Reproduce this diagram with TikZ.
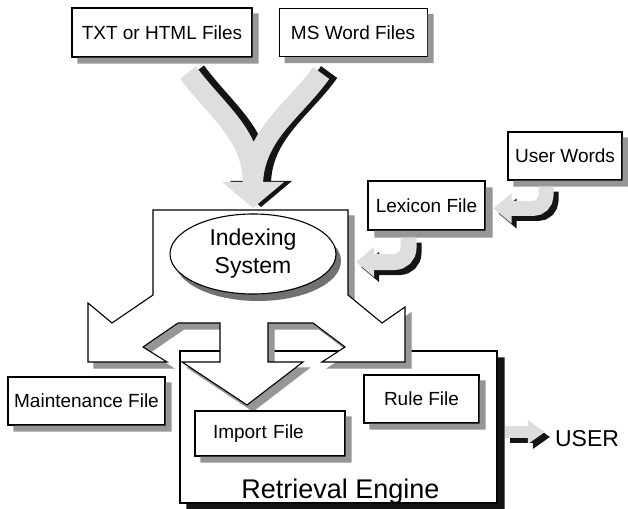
\documentclass[tikz,border=0pt]{standalone}
\usepackage{fontspec}
\setmainfont{Liberation Sans}
\usepackage{tikz}
\usetikzlibrary{shapes.geometric, positioning, calc}
\definecolor{colShadow}{RGB}{150,150,150}
\definecolor{colArrow} {RGB}{222,222,222}
\definecolor{colDark}  {RGB}{20,20,20}
\tikzset{
  base/.style     = {draw, line width=1.1bp, fill=white, inner sep=0pt,
                     font=\fontsize{19bp}{22bp}\selectfont},
  filebox/.style  = {base, rectangle, minimum height=48bp},
  engine/.style   = {base, rectangle, minimum width=317bp, minimum height=152bp},
  oval/.style     = {base, ellipse, minimum width=166bp, minimum height=80bp,
                     align=center, font=\fontsize{23bp}{28bp}\selectfont,
                     preaction={draw=none, fill=colShadow!75!black,
                     transform canvas={shift={(5bp,-7bp)}}}},
  bigtext/.style  = {inner sep=0pt, font=\fontsize{27bp}{30bp}\selectfont},
  usertext/.style = {inner sep=0pt, font=\fontsize{23bp}{26bp}\selectfont},
}

\begin{document}
\begin{tikzpicture}[x=1bp, y=-1bp]
\useasboundingbox (0,0) rectangle (628,509);

%% ── Retrieval Engine ─────────────────────────────────────────────────────────
\node[engine] (retrieval) at (338.5,427) {};
\node[bigtext, anchor=base] (enginelabel) at ($(retrieval.south)+(2,-5)$)
  {Retrieval Engine};

%% ── Indexing System with its three outgoing arrows ───────────────────────────
\foreach \d/\col/\line in {6/colShadow/colShadow, 0/white/black}{
  \path[fill=\col, draw=\line, line width=1.1bp, line join=miter,
        shift={(\d,\d)}]
    (153,210) -- (348,210) -- (348,295)
    -- (382,323) -- (405,307) -- (405,362) -- (322,362) -- (345,347)
    -- (313,323) -- (268,323) -- (268,362) -- (303,362)
    -- (247,405) -- (182,362) -- (220,362) -- (220,323)
    -- (178,323) -- (143,347) -- (167,362) -- (88,362) -- (88,303)
    -- (112,323) -- (153,295) -- cycle;
}
\coordinate (mergetip) at (253,208);
\coordinate (idxeast)  at (356,262);

\node[oval] (indexing) at (253,254) {Indexing\\System};

%% ── source files ─────────────────────────────────────────────────────────────
\node[filebox, minimum width=180bp, minimum height=49bp] (txt) at (162,32.5)
  {TXT or HTML Files};
\node[filebox, minimum width=148bp, right=26bp of txt] (msword)
  {MS Word Files};

%% ── lexicon ──────────────────────────────────────────────────────────────────
\node[filebox, minimum width=114bp] (userwords) at (565,156) {User Words};
\node[filebox, minimum width=117bp, minimum height=49bp] (lexicon)
  at (426.5,205.5) {Lexicon File};

%% ── output files ─────────────────────────────────────────────────────────────
\node[filebox, minimum width=157bp] (maint) at (86.5,401) {Maintenance File};
\node[filebox, minimum width=150bp, minimum height=45bp, text width=114bp,
      inner xsep=18bp, align=left] (import) at (270,433.5) {Import File};
\node[filebox, minimum width=115bp] (rule) at (421.5,399) {Rule File};

\node[usertext] (user) at (587,439) {USER};

%% ── box shadows (right and bottom bands) ─────────────────────────────────────
\foreach \n/\s/\col in {txt/6/colShadow, msword/6/colShadow,
    userwords/6/colShadow, lexicon/7/colShadow, maint/6/colShadow,
    import/6/colShadow, rule/6/colShadow, retrieval/7/colDark}{
  \fill[fill=\col] ($(\n.north east)+(0,\s)$) -- ($(\n.north east)+(\s,\s)$)
    -- ($(\n.south east)+(\s,\s)$) -- ($(\n.south west)+(\s,\s)$)
    -- ($(\n.south west)+(\s,0)$) -- (\n.south east) -- cycle;
}

%% ── block arrows ─────────────────────────────────────────────────────────────
\coordinate (stemL)  at ([shift={(26,15)}]txt.south);
\coordinate (stemR)  at ([shift={(-32,16)}]msword.south);
\coordinate (neck)   at ($(mergetip)+(0,-22)$);
\coordinate (uwout)  at ($(userwords.south)+(-19,6)$);
\coordinate (uwtip)  at ($(lexicon.east)+(8,3)$);
\coordinate (lxout)  at ($(lexicon.south)+(-18,7)$);
\coordinate (usrout) at ($(retrieval.east)+(7,5)$);
\coordinate (usrtip) at ($(user.west)+(-10,-7)$);

% files -> indexing (first pass = dark shadow)
\foreach \dx/\dy/\col in {8/-1/colDark, 0/0/colArrow}{
  \draw[draw=\col, line width=20bp]
    ($(stemL)+(\dx,\dy)$) .. controls ($(220,115)+(\dx,\dy)$)
      and ($(253,135)+(\dx,\dy)$) .. ($(neck)+(\dx,\dy)$)
    ($(stemR)+(\dx,\dy)$) .. controls ($(295,110)+(\dx,\dy)$)
      and ($(253,135)+(\dx,\dy)$) .. ($(neck)+(\dx,\dy)$);
  \fill[fill=\col] ($(mergetip)+(-31,-26)+(\dx,\dy)$) -- ($(mergetip)+(\dx,\dy)$)
    -- ($(mergetip)+(31,-26)+(\dx,\dy)$) -- cycle;
}
% user words -> lexicon -> indexing, engine -> user
\foreach \d/\col in {5/colDark, 0/colArrow}{
  \draw[draw=\col, line width=15bp, rounded corners=13bp]
    ($(uwout)+(\d,\d)$) |- ($(uwtip)+(17,0)+(\d,\d)$);
  \fill[fill=\col] ($(uwtip)+(18,-15)+(\d,\d)$) -- ($(uwtip)+(\d,\d)$)
    -- ($(uwtip)+(18,15)+(\d,\d)$) -- cycle;
  \draw[draw=\col, line width=16bp, rounded corners=14bp]
    ($(lxout)+(\d,\d)$) |- ($(idxeast)+(17,0)+(\d,\d)$);
  \fill[fill=\col] ($(idxeast)+(18,-15)+(\d,\d)$) -- ($(idxeast)+(\d,\d)$)
    -- ($(idxeast)+(18,15)+(\d,\d)$) -- cycle;
  \draw[draw=\col, line width=12bp]
    ($(usrout)+(\d,\d)$) -- ($(usrtip)+(-16,0)+(\d,\d)$);
  \fill[fill=\col] ($(usrtip)+(-17,-12)+(\d,\d)$) -- ($(usrtip)+(\d,\d)$)
    -- ($(usrtip)+(-17,12)+(\d,\d)$) -- cycle;
}

\end{tikzpicture}
\end{document}
